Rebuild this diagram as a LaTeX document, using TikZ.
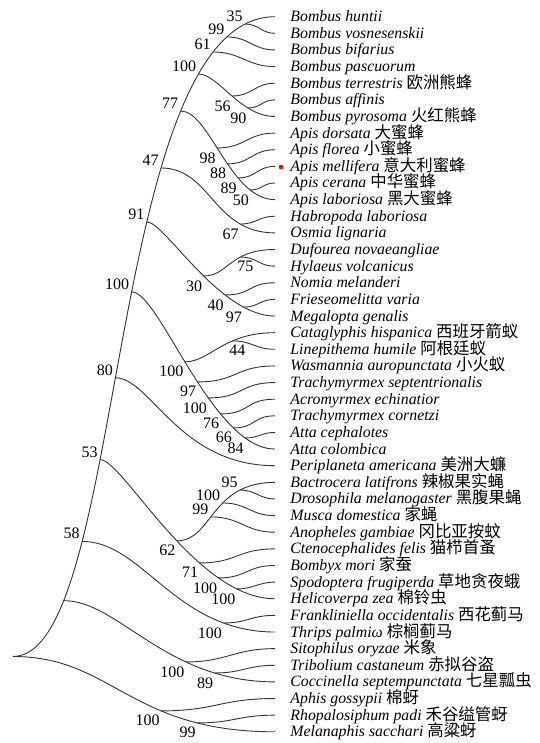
\documentclass[tikz,border=0pt]{standalone}
\usepackage{fontspec}
\setmainfont{Liberation Serif}
\newfontfamily\cjk[Scale=1.04]{Noto Sans CJK SC}
\usetikzlibrary{calc}

\begin{document}
\begin{tikzpicture}[x=1pt, y=-1pt, line width=0.9pt, draw=black!80,
	sig/.style 2 args={out=0, in=180, out distance=#1pt, in distance=#2pt},
	taxon/.style={anchor=base west, inner sep=0pt, font=\fontsize{15.8}{16}\selectfont},
	bs/.style={inner sep=0pt, font=\fontsize{16}{16}\selectfont}]
	\useasboundingbox (0,0) rectangle (539,743);

	% tips and names
	\foreach \i in {1,...,44} \coordinate (t\i) at (275,{16.7+(\i-1)*16.63});
	\foreach \i/\sp/\cn in {1/Bombus huntii/{}, 2/Bombus vosnesenskii/{}, 3/Bombus bifarius/{},
		4/Bombus pascuorum/{}, 5/Bombus terrestris/欧洲熊蜂, 6/Bombus affinis/{},
		7/Bombus pyrosoma/火红熊蜂, 8/Apis dorsata/大蜜蜂, 9/Apis florea/小蜜蜂,
		10/Apis mellifera/意大利蜜蜂, 11/Apis cerana/中华蜜蜂, 12/Apis laboriosa/黑大蜜蜂,
		13/Habropoda laboriosa/{}, 14/Osmia lignaria/{}, 15/Dufourea novaeangliae/{},
		16/Hylaeus volcanicus/{}, 17/Nomia melanderi/{}, 18/Frieseomelitta varia/{},
		19/Megalopta genalis/{}, 20/Cataglyphis hispanica/西班牙箭蚁, 21/Linepithema humile/阿根廷蚁,
		22/Wasmannia auropunctata/小火蚁, 23/Trachymyrmex septentrionalis/{}, 24/Acromyrmex echinatior/{},
		25/Trachymyrmex cornetzi/{}, 26/Atta cephalotes/{}, 27/Atta colombica/{},
		28/Periplaneta americana/美洲大蠊, 29/Bactrocera latifrons/辣椒果实蝇,
		30/Drosophila melanogaster/黑腹果蝇, 31/Musca domestica/家蝇, 32/Anopheles gambiae/冈比亚按蚊,
		33/Ctenocephalides felis/猫栉首蚤, 34/Bombyx mori/家蚕, 35/Spodoptera frugiperda/草地贪夜蛾,
		36/Helicoverpa zea/棉铃虫, 37/Frankliniella occidentalis/西花蓟马, 38/Thrips palmiω/棕榈蓟马,
		39/Sitophilus oryzae/米象, 40/Tribolium castaneum/赤拟谷盗, 41/Coccinella septempunctata/七星瓢虫,
		42/Aphis gossypii/棉蚜, 43/Rhopalosiphum padi/禾谷缢管蚜, 44/Melanaphis sacchari/高粱蚜}
		\node[taxon] (l\i) at ($(t\i)+(15,5)$) {\textit{\sp} {\cjk\cn}};
	\fill[red] (281,167) circle (2.3);

	% backbone
	\coordinate (root) at (13,656.5);
	\draw (root) to[sig={114}{170}]
		node[coordinate,pos=0.182] (nA) {} node[coordinate,pos=0.2705] (n58) {}
		node[coordinate,pos=0.3688] (n53) {} node[coordinate,pos=0.457] (n80) {}
		node[coordinate,pos=0.5468] (n100c) {} node[coordinate,pos=0.622] (n91) {}
		node[coordinate,pos=0.684] (n47) {} node[coordinate,pos=0.758] (n77) {}
		node[coordinate,pos=0.8155] (n100b) {} node[coordinate,pos=0.8575] (n61) {}
		node[coordinate,pos=0.8935] (n99) {} node[coordinate,pos=0.937] (n35) {} (t1);

	% Bombus
	\draw (n35) to[sig={14}{14}] (t2);
	\draw (n99) to[sig={22}{22}] (t3);
	\draw (n61) to[sig={28}{28}] (t4);
	\draw (n100b) to[sig={20}{35}] node[coordinate,pos=0.512] (n56) {}
		node[coordinate,pos=0.713] (n90) {} (t7);
	\draw (n56) to[sig={20}{20}] (t5);
	\draw (n90) to[sig={13}{13}] (t6);

	% Apis
	\draw (n77) to[sig={29}{45}] node[coordinate,pos=0.4447] (n98) {}
		node[coordinate,pos=0.565] (n88) {} node[coordinate,pos=0.678] (n89) {}
		node[coordinate,pos=0.7955] (n50) {} (t12);
	\draw (n98) to[sig={28}{28}] (t8);
	\draw (n88) to[sig={23}{23}] (t9);
	\draw (n89) to[sig={18}{18}] (t10);
	\draw (n50) to[sig={12}{12}] (t11);

	% other bees
	\draw (n47) to[sig={50}{62}] node[coordinate,pos=0.768] (n67) {} (t14);
	\draw (n67) to[sig={17}{17}] (t13);
	\draw (n91) to[sig={18}{56}] node[coordinate,pos=0.55] (n30) {}
		node[coordinate,pos=0.694] (n40) {} node[coordinate,pos=0.809] (n97) {} (t19);
	\draw (n30) to[sig={25}{46}] node[coordinate,pos=0.649] (n75) {} (t15);
	\draw (n75) to[sig={17}{17}] (t16);
	\draw (n40) to[sig={27}{27}] (t17);
	\draw (n97) to[sig={16}{16}] (t18);

	% ants
	\draw (n100c) to[sig={28}{63}] node[coordinate,pos=0.4635] (n100d) {}
		node[coordinate,pos=0.5488] (n97b) {} node[coordinate,pos=0.6187] (n100e) {}
		node[coordinate,pos=0.694] (n76) {} node[coordinate,pos=0.77] (n66) {}
		node[coordinate,pos=0.8375] (n84) {} (t27);
	\draw (n100d) to[sig={25}{52}] node[coordinate,pos=0.649] (n44) {} (t20);
	\draw (n44) to[sig={20}{20}] (t21);
	\draw (n97b) to[sig={40}{40}] (t22);
	\draw (n100e) to[sig={35}{35}] (t23);
	\draw (n76) to[sig={30}{30}] (t24);
	\draw (n66) to[sig={22}{22}] (t25);
	\draw (n84) to[sig={14}{14}] (t26);

	\draw (n80) to[sig={35}{96}] (t28);

	% flies, flea, moths
	\draw (n53) to[sig={23}{80}] node[coordinate,pos=0.556] (n62) {}
		node[coordinate,pos=0.668] (n71) {} node[coordinate,pos=0.756] (n100f) {}
		node[coordinate,pos=0.8378] (n100g) {} (t36);
	\draw (n62) to[sig={36}{65}] node[coordinate,pos=0.439] (n99b) {}
		node[coordinate,pos=0.5995] (n100h) {} node[coordinate,pos=0.773] (n95) {} (t29);
	\draw (n99b) to[sig={30}{30}] (t32);
	\draw (n100h) to[sig={25}{25}] (t31);
	\draw (n95) to[sig={16}{16}] (t30);
	\draw (n71) to[sig={38}{38}] (t33);
	\draw (n100f) to[sig={28}{28}] (t34);
	\draw (n100g) to[sig={16}{16}] (t35);

	% thrips, beetles, aphids
	\draw (n58) to[sig={61}{100}] node[coordinate,pos=0.8045] (n100i) {} (t38);
	\draw (n100i) to[sig={25}{25}] (t37);
	\draw (nA) to[sig={55}{110}] node[coordinate,pos=0.677] (n100j) {}
		node[coordinate,pos=0.794] (n89b) {} (t41);
	\draw (n100j) to[sig={42}{42}] (t39);
	\draw (n89b) to[sig={28}{28}] (t40);
	\draw (root) to[sig={100}{146}] node[coordinate,pos=0.653] (n100k) {}
		node[coordinate,pos=0.786] (n99c) {} (t44);
	\draw (n100k) to[sig={55}{55}] (t42);
	\draw (n99c) to[sig={38}{38}] (t43);

	% support values
	\foreach \n/\v in {n58/58, n53/53, n80/80, n100c/100, n91/91, n47/47, n77/77, n100b/100,
		n61/61, n99/99, n35/35, n99b/99, n100h/100, n95/95}
		\node[bs, anchor=south east] (b\n) at ($(\n)+(-2,-2)$) {\v};
	\foreach \n/\v in {n56/56, n90/90, n98/98, n88/88, n89/89, n50/50, n67/67, n30/30, n40/40,
		n97/97, n100d/100, n97b/97, n100e/100, n76/76, n66/66, n84/84, n62/62, n71/71,
		n100f/100, n100g/100, n100i/100, n100j/100, n89b/89, n100k/100, n99c/99}
		\node[bs, anchor=north east] (b\n) at ($(\n)+(-1,4)$) {\v};
	\foreach \n/\v in {n44/44, n75/75}
		\node[bs, anchor=north] (b\n) at ($(\n)+(5,4)$) {\v};
\end{tikzpicture}
\end{document}
